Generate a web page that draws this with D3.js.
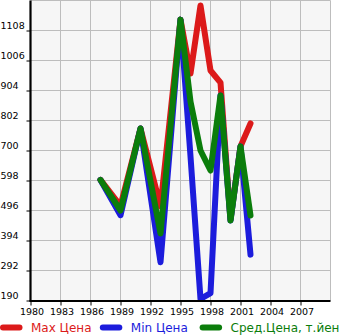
<!DOCTYPE html>
<html>
<head>
<meta charset="utf-8">
<script src="https://cdn.jsdelivr.net/npm/d3@7/dist/d3.min.js"></script>
<style>
  html, body { margin: 0; padding: 0; background: #ffffff; }
  svg { display: block; }
  text { font-family: "DejaVu Sans", sans-serif; }
</style>
</head>
<body>
<script>
// Years with recorded prices
const years = [1987, 1989, 1991, 1993, 1995, 1996, 1997, 1998, 1999, 2000, 2001, 2002];
// Price series (thousand yen)
const maxPrice = [600, 512, 775, 510, 1145, 962, 1193, 972, 931, 466, 714, 792];
const minPrice = [600, 480, 775, 320, 1145, 680, 195, 215, 887, 462, 714, 346];
const avgPrice = [600, 496, 775, 418, 1145, 866, 700, 632, 887, 462, 714, 479];

const xTicks = [1980, 1983, 1986, 1989, 1992, 1995, 1998, 2001, 2004, 2007];
const yTicks = [190, 292, 394, 496, 598, 700, 802, 904, 1006, 1108];

const seriesNames = ["Max Цена", "Min Цена", "Сред.Цена, т.йен"];
const seriesColors = ["#dc1a1a", "#1c1cdc", "#0b7d0b"];
const seriesValues = [maxPrice, minPrice, avgPrice];

const W = 345, H = 335;
const svg = d3.select("body").append("svg").attr("width", W).attr("height", H);

const x = d3.scaleLinear().domain([1980, 2010]).range([30.5, 330.5]);
const y = d3.scaleLinear().domain([190, 1210]).range([300.5, 0.5]);

// plot background
svg.append("rect")
  .attr("x", x(1980)).attr("y", y(1210))
  .attr("width", x(2010) - x(1980)).attr("height", y(190) - y(1210))
  .attr("fill", "#f6f6f6");

// grid
const gridColor = "#bdbdbd";
svg.append("g").selectAll("line").data(d3.range(1983, 2011, 3)).join("line")
  .attr("x1", d => x(d)).attr("x2", d => x(d))
  .attr("y1", y(1210)).attr("y2", y(190))
  .attr("stroke", gridColor).attr("stroke-width", 1);
svg.append("g").selectAll("line").data(yTicks.slice(1).concat([1210])).join("line")
  .attr("x1", x(1980)).attr("x2", x(2010))
  .attr("y1", d => y(d)).attr("y2", d => y(d))
  .attr("stroke", gridColor).attr("stroke-width", 1);

// series lines
const line = d3.line()
  .x((d, i) => x(years[i]))
  .y(d => y(d));

seriesValues.forEach((vals, k) => {
  svg.append("path")
    .datum(vals)
    .attr("d", line)
    .attr("fill", "none")
    .attr("stroke", seriesColors[k])
    .attr("stroke-width", 6)
    .attr("stroke-linejoin", "round")
    .attr("stroke-linecap", "round");
});

// axes
const yAxis = svg.append("g")
  .attr("transform", `translate(${x(1980)},0)`)
  .call(d3.axisLeft(y).tickValues(yTicks).tickSize(4).tickFormat(""));
const xAxis = svg.append("g")
  .attr("transform", `translate(0,${y(190)})`)
  .call(d3.axisBottom(x).tickValues(xTicks).tickSize(5).tickFormat(""));
[yAxis, xAxis].forEach(g => {
  g.select(".domain").remove();
  g.selectAll(".tick line").attr("stroke", "#000").attr("stroke-width", 1);
});
svg.append("line")
  .attr("x1", x(1980)).attr("x2", x(1980))
  .attr("y1", y(1210)).attr("y2", y(190) + 1)
  .attr("stroke", "#000").attr("stroke-width", 2.2);
svg.append("line")
  .attr("x1", x(1980) - 1).attr("x2", x(2010))
  .attr("y1", y(190) + 0.5).attr("y2", y(190) + 0.5)
  .attr("stroke", "#000").attr("stroke-width", 2.2);

// tick labels
svg.append("g").selectAll("text").data(yTicks).join("text")
  .attr("x", 0.5)
  .attr("y", d => y(d) - 1.5)
  .attr("font-size", 9.5)
  .attr("fill", "#000")
  .text(d => d);
svg.append("g").selectAll("text").data(xTicks).join("text")
  .attr("x", d => x(d) + 1.5)
  .attr("y", 315)
  .attr("text-anchor", "middle")
  .attr("font-size", 9.5)
  .attr("fill", "#000")
  .text(d => d);

// legend
const legend = svg.append("g");
seriesNames.forEach((name, k) => {
  const x0 = k * 99.8;
  legend.append("line")
    .attr("x1", x0 + 3).attr("x2", x0 + 19.5)
    .attr("y1", 327.5).attr("y2", 327.5)
    .attr("stroke", seriesColors[k])
    .attr("stroke-width", 6)
    .attr("stroke-linecap", "round");
  legend.append("text")
    .attr("x", x0 + 31)
    .attr("y", 332)
    .attr("font-size", 12)
    .attr("fill", seriesColors[k])
    .text(name);
});
</script>
</body>
</html>
